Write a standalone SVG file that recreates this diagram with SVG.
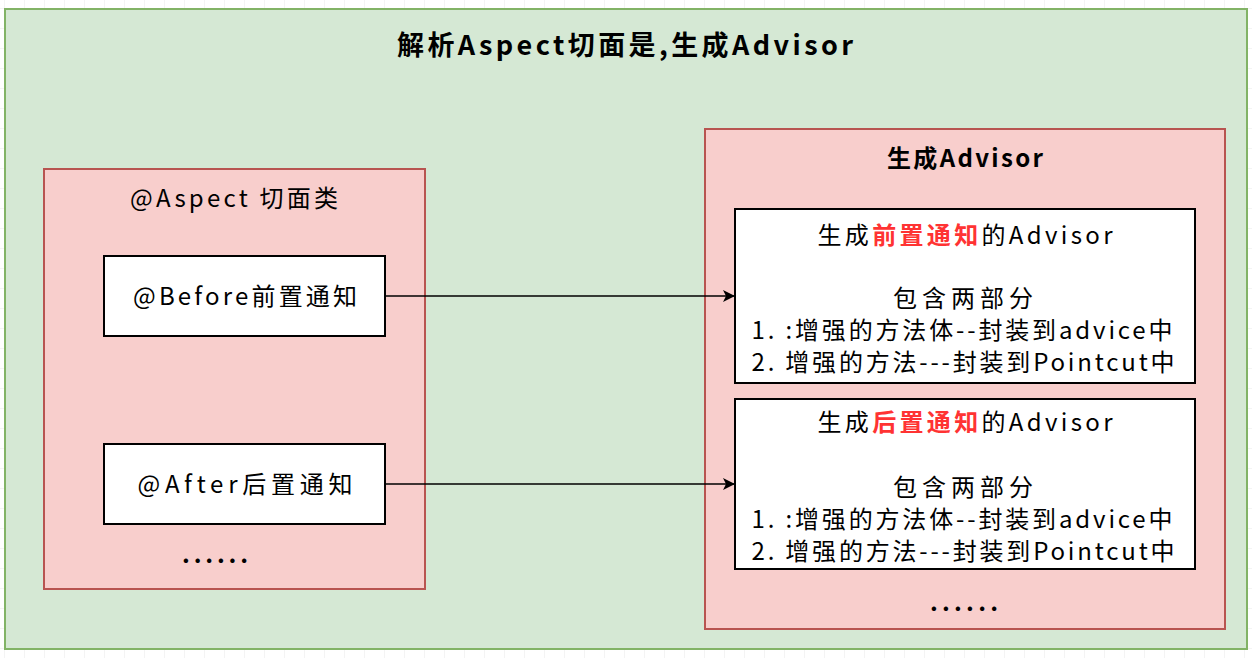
<svg xmlns="http://www.w3.org/2000/svg" width="1252" height="658" viewBox="0 0 1252 658">
<defs>
<pattern id="grid" x="5" y="9" width="20" height="20" patternUnits="userSpaceOnUse">
<path d="M20 0 V20 M0 20 H20" fill="none" stroke="#e8e8e8" stroke-width="1"/>
</pattern>
<marker id="arrow" viewBox="0 0 12 12" refX="11" refY="6" markerWidth="12" markerHeight="12" markerUnits="userSpaceOnUse" orient="auto">
<path d="M0 0 L12 6 L0 12 L3 6 Z" fill="#000"/>
</marker>
<style>
text{font-family:"Noto Sans CJK SC","Noto Sans",sans-serif;fill:#000;text-anchor:middle}
.container{fill:#f8cecc;stroke:#b85450;stroke-width:2}
.box{fill:#fff;stroke:#000;stroke-width:2}
.t{font-size:24px}
.b{font-weight:bold}
.red{fill:#ff3333;font-weight:bold}
.edge{stroke:#000;stroke-width:1.5;fill:none}
</style>
</defs>
<rect width="1252" height="658" fill="#fff"/>
<rect width="1252" height="658" fill="url(#grid)"/>
<g id="outer">
<rect x="5" y="9" width="1242" height="640" fill="#d5e8d4" stroke="#82b366" stroke-width="2"/>
<text x="625" y="55" font-size="27" class="b" textLength="456" lengthAdjust="spacing">解析Aspect切面是,生成Advisor</text>
</g>
<g id="aspect">
<rect class="container" x="44" y="169" width="381" height="420"/>
<text class="t" x="234" y="207" textLength="208" lengthAdjust="spacing">@Aspect 切面类</text>
<text class="t b" x="215" y="563" textLength="66" lengthAdjust="spacing">......</text>
</g>
<g id="before">
<rect class="box" x="104" y="256" width="281" height="80"/>
<text class="t" x="245" y="305" textLength="224" lengthAdjust="spacing">@Before前置通知</text>
</g>
<g id="after">
<rect class="box" x="104" y="444" width="281" height="80"/>
<text class="t" x="245" y="493" textLength="215" lengthAdjust="spacing">@After后置通知</text>
</g>
<g id="advisors">
<rect class="container" x="705" y="129" width="520" height="500"/>
<text class="b" font-size="24" x="965" y="167" textLength="156" lengthAdjust="spacing">生成Advisor</text>
<text class="t b" x="964" y="611" textLength="68" lengthAdjust="spacing">......</text>
</g>
<g id="beforeAdvisor">
<rect class="box" x="735" y="209" width="460" height="174"/>
<text class="t" x="965" y="244" textLength="295" lengthAdjust="spacing">生成<tspan class="red">前置通知</tspan>的Advisor</text>
<text class="t" x="963" y="307" textLength="140" lengthAdjust="spacing">包含两部分</text>
<text class="t" x="962" y="339" textLength="421" lengthAdjust="spacing">1. :增强的方法体--封装到advice中</text>
<text class="t" x="963" y="371" textLength="423" lengthAdjust="spacing">2. 增强的方法---封装到Pointcut中</text>
</g>
<g id="afterAdvisor">
<rect class="box" x="735" y="399" width="460" height="170"/>
<text class="t" x="965" y="431" textLength="295" lengthAdjust="spacing">生成<tspan class="red">后置通知</tspan>的Advisor</text>
<text class="t" x="963" y="496" textLength="140" lengthAdjust="spacing">包含两部分</text>
<text class="t" x="962" y="528" textLength="421" lengthAdjust="spacing">1. :增强的方法体--封装到advice中</text>
<text class="t" x="963" y="560" textLength="423" lengthAdjust="spacing">2. 增强的方法---封装到Pointcut中</text>
</g>
<g id="connectors">
<path class="edge" d="M385 296 H734" marker-end="url(#arrow)"/>
<path class="edge" d="M385 484 H734" marker-end="url(#arrow)"/>
</g>
</svg>
